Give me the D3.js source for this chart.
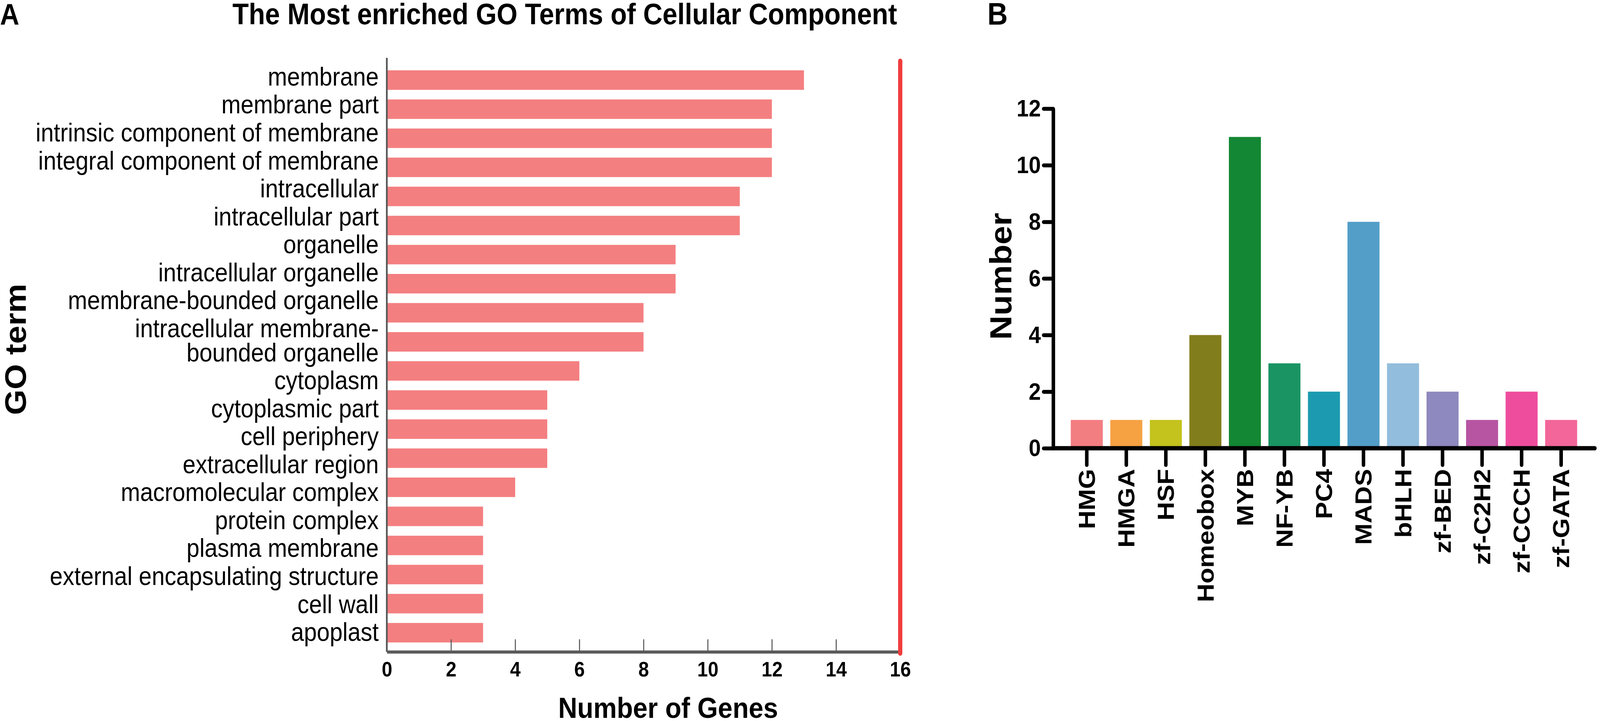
<!DOCTYPE html>
<html>
<head>
<meta charset="utf-8">
<script src="https://cdn.jsdelivr.net/npm/d3@7"></script>
<style>
  html, body { margin: 0; padding: 0; width: 100%; height: 100%; overflow: hidden; background: #fff; }
  svg { display: block; width: 100vw; height: 100vh; font-family: "Liberation Sans", Arial, sans-serif; }
</style>
</head>
<body>
<script>
let width = 4550;
let height = 1845;

// panel A: GO terms and gene counts
let goTerms = [
  "membrane", "membrane part", "intrinsic component of membrane",
  "integral component of membrane", "intracellular", "intracellular part",
  "organelle", "intracellular organelle", "membrane-bounded organelle",
  "intracellular membrane-bounded organelle", "cytoplasm", "cytoplasmic part",
  "cell periphery", "extracellular region", "macromolecular complex",
  "protein complex", "plasma membrane", "external encapsulating structure",
  "cell wall", "apoplast"
];
let geneCounts = [13, 12, 12, 12, 11, 11, 9, 9, 8, 8, 6, 5, 5, 5, 4, 3, 3, 3, 3, 3];
let xTicksA = [0, 2, 4, 6, 8, 10, 12, 14, 16];

// panel B: transcription factor families
let families = ["HMG", "HMGA", "HSF", "Homeobox", "MYB", "NF-YB", "PC4", "MADS",
                "bHLH", "zf-BED", "zf-C2H2", "zf-CCCH", "zf-GATA"];
let familyCounts = [1, 1, 1, 4, 11, 3, 2, 8, 3, 2, 1, 2, 1];
let familyColors = ["#f37e82", "#f6a243", "#c4c21c", "#827d1c", "#138733", "#1a9463",
                    "#1c9bb0", "#539ec9", "#92bddc", "#8e89be", "#b855a3", "#ee4d9e", "#f2669a"];
let yTicksB = [0, 2, 4, 6, 8, 10, 12];

// svg fills the window through its viewBox
let svg = d3.select("body")
            .append("svg")
            .attr("viewBox", "0 0 " + width + " " + height)
            .attr("preserveAspectRatio", "none")
            .style("background", "#fff");

// ---------- panel A ----------
let xA = d3.scaleLinear().domain([0, 16]).range([1100, 2560]);
let yA = d3.scaleBand().domain(goTerms).range([180, 1644]).paddingInner(0.33).paddingOuter(0);

svg.append("text")
   .attr("x", 0).attr("y", 63)
   .attr("font-size", 76).attr("font-weight", "bold")
   .text("A");

svg.append("text")
   .attr("x", 661).attr("y", 62)
   .attr("font-size", 76).attr("font-weight", "bold")
   .text("The Most enriched GO Terms of Cellular Component");

svg.append("g")
   .selectAll("rect")
   .data(goTerms)
   .enter()
   .append("rect")
   .attr("x", xA(0))
   .attr("y", d => yA(d))
   .attr("width", (d, i) => xA(geneCounts[i]) - xA(0))
   .attr("height", yA.bandwidth())
   .attr("fill", "#f47f80");

// long terms wrap after their last hyphen
function wrapTerm(d) {
  let cut = d.lastIndexOf("-") + 1;
  return d.length > 35 ? [d.slice(0, cut), d.slice(cut)] : [d];
}

// labels are spread evenly (line by line) between the first and last band
let lineGap = 62;
let bandMid = d => yA(d) + yA.bandwidth() / 2;
let firstBase = bandMid(goTerms[0]) + 14;
let lastBase = bandMid(goTerms[goTerms.length - 1]) + 21;
let extraLines = d3.sum(goTerms, d => wrapTerm(d).length - 1);
let labelStep = (lastBase - firstBase - extraLines * lineGap) / (goTerms.length - 1);
let labelBase = [];
let acc = firstBase;
goTerms.forEach(d => {
  labelBase.push(acc);
  acc += labelStep + (wrapTerm(d).length - 1) * lineGap;
});

// y axis of A (labels only, the line is drawn by hand so it runs past the bands)
let yAxisA = svg.append("g")
   .attr("transform", "translate(" + xA(0) + ",0)")
   .call(d3.axisLeft(yA).tickSize(0).tickPadding(23));
yAxisA.select(".domain").remove();
yAxisA.selectAll(".tick text").each(function(d, i) {
  let t = d3.select(this);
  let lines = wrapTerm(d);
  t.text(null)
   .attr("dy", null)
   .attr("font-size", 66)
   .attr("font-family", "'Liberation Sans', Arial, sans-serif")
   .attr("fill", "#000");
  lines.forEach((line, k) => {
    t.append("tspan")
     .attr("x", -23)
     .attr("y", labelBase[i] - bandMid(d) + k * lineGap)
     .text(line);
  });
});

svg.append("line")
   .attr("x1", xA(0)).attr("x2", xA(0))
   .attr("y1", 148).attr("y2", 1668)
   .attr("stroke", "#5a5a5a").attr("stroke-width", 5);

// x axis of A
let xAxisA = svg.append("g")
   .attr("transform", "translate(0,1668)")
   .call(d3.axisBottom(xA).tickValues(xTicksA).tickSizeInner(-32).tickSizeOuter(0).tickPadding(25));
xAxisA.select(".domain").attr("stroke", "#5a5a5a").attr("stroke-width", 8);
xAxisA.selectAll(".tick line").attr("stroke", "#5a5a5a").attr("stroke-width", 3);
xAxisA.selectAll(".tick text")
   .attr("font-size", 54).attr("font-weight", "bold")
   .attr("font-family", "'Liberation Sans', Arial, sans-serif")
   .attr("fill", "#000");

// red reference line at the axis end
svg.append("line")
   .attr("x1", xA(16)).attr("x2", xA(16))
   .attr("y1", 156).attr("y2", 1672)
   .attr("stroke", "#f03c3c").attr("stroke-width", 12)
   .attr("stroke-linecap", "round");

svg.append("text")
   .attr("x", 1900).attr("y", 1837)
   .attr("text-anchor", "middle")
   .attr("font-size", 75).attr("font-weight", "bold")
   .text("Number of Genes");

svg.append("text")
   .attr("transform", "translate(73,894) rotate(-90)")
   .attr("text-anchor", "middle")
   .attr("font-size", 84).attr("font-weight", "bold")
   .text("GO term");

// ---------- panel B ----------
let xB = d3.scaleBand().domain(families).range([3045, 4485]).paddingInner(0.19).paddingOuter(0);
let yB = d3.scaleLinear().domain([0, 12]).range([1147, 278]);

svg.append("text")
   .attr("x", 2808).attr("y", 63)
   .attr("font-size", 80).attr("font-weight", "bold")
   .text("B");

svg.append("g")
   .selectAll("rect")
   .data(families)
   .enter()
   .append("rect")
   .attr("x", d => xB(d))
   .attr("y", (d, i) => yB(familyCounts[i]))
   .attr("width", xB.bandwidth())
   .attr("height", (d, i) => yB(0) - yB(familyCounts[i]))
   .attr("fill", (d, i) => familyColors[i]);

let yAxisB = svg.append("g")
   .attr("transform", "translate(2995,0)")
   .call(d3.axisLeft(yB).tickValues(yTicksB).tickSize(27).tickSizeOuter(0).tickPadding(8));
yAxisB.select(".domain").attr("stroke", "#000").attr("stroke-width", 10);
yAxisB.selectAll(".tick line").attr("stroke", "#000").attr("stroke-width", 10).attr("stroke-linecap", "round");
yAxisB.selectAll(".tick text")
   .attr("font-size", 62).attr("font-weight", "bold")
   .attr("font-family", "'Liberation Sans', Arial, sans-serif")
   .attr("fill", "#000");

let xAxisB = svg.append("g")
   .attr("transform", "translate(0,1147)")
   .call(d3.axisBottom(xB).tickSize(43).tickSizeOuter(0).tickPadding(10));
xAxisB.select(".domain")
   .attr("d", "M2995,0H4535")
   .attr("stroke", "#000").attr("stroke-width", 11).attr("stroke-linecap", "round");
xAxisB.selectAll(".tick line").attr("stroke", "#000").attr("stroke-width", 10).attr("stroke-linecap", "round");
xAxisB.selectAll(".tick text")
   .attr("transform", "rotate(-90)")
   .attr("x", -53).attr("y", 0)
   .attr("dy", "0.35em")
   .attr("text-anchor", "end")
   .attr("font-size", 66).attr("font-weight", "bold")
   .attr("font-family", "'Liberation Sans', Arial, sans-serif")
   .attr("fill", "#000");

svg.append("text")
   .attr("transform", "translate(2876,707) rotate(-90)")
   .attr("text-anchor", "middle")
   .attr("font-size", 86).attr("font-weight", "bold")
   .text("Number");
</script>
</body>
</html>
